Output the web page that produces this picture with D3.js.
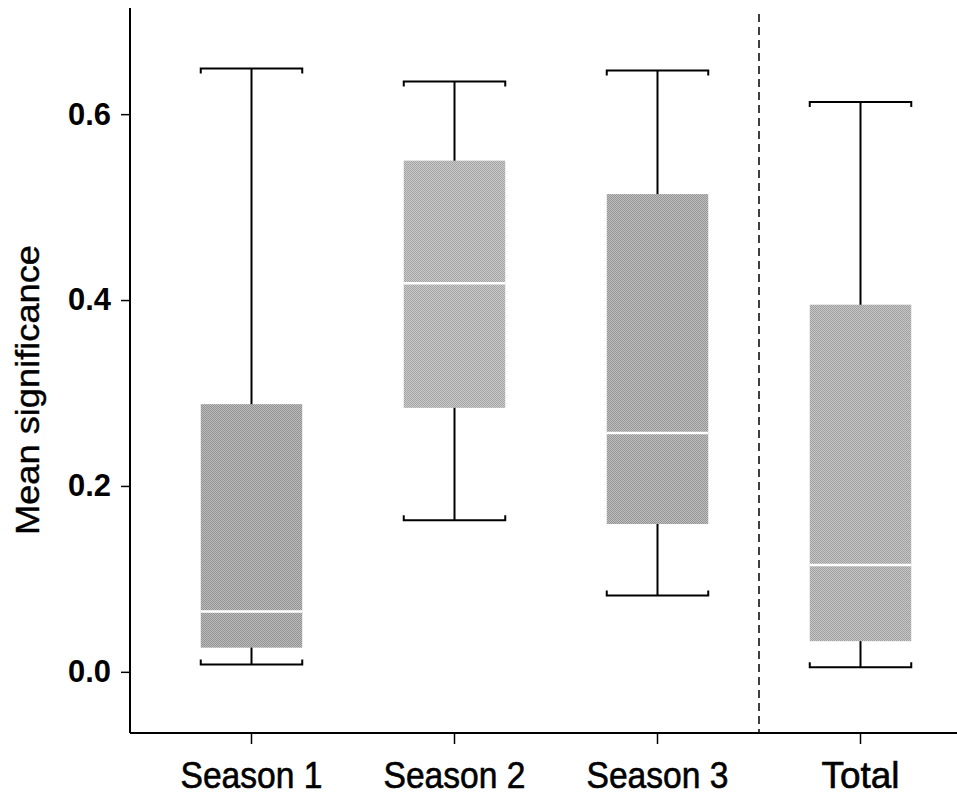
<!DOCTYPE html>
<html>
<head>
<meta charset="utf-8">
<script src="https://cdn.jsdelivr.net/npm/d3@7"></script>
<style>
  body { margin: 0; background: #fff; }
  svg { display: block; }
</style>
</head>
<body>
<svg id="chart"></svg>
<script>
// box summaries
const categories = ["Season 1", "Season 2", "Season 3", "Total"];
const whiskerMax = [0.649, 0.635, 0.647, 0.613];
const q3 = [0.288, 0.550, 0.514, 0.395];
const median = [0.065, 0.418, 0.257, 0.115];
const q1 = [0.026, 0.284, 0.159, 0.033];
const whiskerMin = [0.008, 0.163, 0.082, 0.005];
const yTicks = [0.0, 0.2, 0.4, 0.6];

// light / dark dither pairs per box
const boxGray = [["#bcbcbc", "#929292"], ["#cacaca", "#a4a4a4"], ["#bebebe", "#969696"], ["#c6c6c6", "#a0a0a0"]];

const width = 957;
const height = 797;
const margin = { top: 8, right: 0, bottom: 64, left: 130 };

const svg = d3.select("#chart")
    .attr("width", width)
    .attr("height", height);

const y = d3.scaleLinear()
    .domain([-0.0658, 0.7142])
    .range([height - margin.bottom, margin.top]);

const x = d3.scaleBand()
    .domain(categories)
    .range([150, 962])
    .padding(0);

const boxW = x.bandwidth() * 0.5;

// dither-like fill patterns
const defs = svg.append("defs");
boxGray.forEach(function(c, i) {
    const p = defs.append("pattern")
        .attr("id", "dither" + i)
        .attr("width", 2).attr("height", 2)
        .attr("patternUnits", "userSpaceOnUse");
    p.append("rect").attr("width", 2).attr("height", 2).attr("fill", c[0]);
    p.append("rect").attr("width", 1).attr("height", 1).attr("fill", c[1]);
    p.append("rect").attr("x", 1).attr("y", 1).attr("width", 1).attr("height", 1).attr("fill", c[1]);
});

const data = categories.map((c, i) => ({
    cat: c, max: whiskerMax[i], q3: q3[i], med: median[i], q1: q1[i], min: whiskerMin[i], i: i
}));

const g = svg.append("g");

const boxes = g.selectAll(".box")
    .data(data)
    .enter()
    .append("g")
    .attr("class", "box");

const cx = d => x(d.cat) + x.bandwidth() / 2;

// whisker stems
boxes.append("line")
    .attr("x1", cx)
    .attr("x2", cx)
    .attr("y1", d => y(d.max))
    .attr("y2", d => y(d.min))
    .attr("stroke", "#000")
    .attr("stroke-width", 2);

// caps with little hooks at the ends
const hook = 5;
boxes.append("path")
    .attr("d", function(d) {
        const x0 = cx(d) - boxW / 2;
        const x1 = x0 + boxW;
        const yt = y(d.max);
        return `M${x0},${yt + hook}V${yt}H${x1}V${yt + hook}`;
    })
    .attr("fill", "none")
    .attr("stroke", "#000")
    .attr("stroke-width", 2);

boxes.append("path")
    .attr("d", function(d) {
        const x0 = cx(d) - boxW / 2;
        const x1 = x0 + boxW;
        const yb = y(d.min);
        return `M${x0},${yb - hook}V${yb}H${x1}V${yb - hook}`;
    })
    .attr("fill", "none")
    .attr("stroke", "#000")
    .attr("stroke-width", 2);

// the box itself
boxes.append("rect")
    .attr("x", d => cx(d) - boxW / 2)
    .attr("width", boxW)
    .attr("y", d => y(d.q3))
    .attr("height", d => y(d.q1) - y(d.q3))
    .attr("fill", d => `url(#dither${d.i})`);

// median as a white line
boxes.append("line")
    .attr("x1", d => cx(d) - boxW / 2)
    .attr("x2", d => cx(d) + boxW / 2)
    .attr("y1", d => y(d.med))
    .attr("y2", d => y(d.med))
    .attr("stroke", "#fff")
    .attr("stroke-width", 2.5);

// dashed separator between seasons and total
const sepX = x("Total");
g.append("line")
    .attr("x1", sepX).attr("x2", sepX)
    .attr("y1", 14)
    .attr("y2", y.range()[0])
    .attr("stroke", "#000")
    .attr("stroke-width", 1.5)
    .attr("stroke-dasharray", "8,5");

// axes
const yAxis = d3.axisLeft(y)
    .tickValues(yTicks)
    .tickFormat(d3.format(".1f"))
    .tickSize(9)
    .tickPadding(10);

const yG = svg.append("g")
    .attr("transform", `translate(${margin.left},0)`)
    .call(yAxis);
yG.select(".domain").attr("d", `M0,${margin.top}V${y.range()[0]}`).attr("stroke-width", 2);
yG.selectAll(".tick line").attr("stroke-width", 1.5);
yG.selectAll("text")
    .attr("font-family", "Liberation Sans, Arial, sans-serif")
    .attr("font-size", 31)
    .attr("font-weight", "bold")
    .attr("fill", "#000")
    .attr("textLength", 43)
    .attr("lengthAdjust", "spacingAndGlyphs");

const xAxis = d3.axisBottom(x)
    .tickSize(11)
    .tickPadding(18);

const xG = svg.append("g")
    .attr("transform", `translate(0,${y.range()[0]})`)
    .call(xAxis);
xG.select(".domain").attr("d", `M${margin.left},0H${width}`).attr("stroke-width", 2);
xG.selectAll(".tick line").attr("stroke-width", 1.5);
xG.selectAll("text")
    .attr("font-family", "Liberation Sans, Arial, sans-serif")
    .attr("font-size", 37)
    .attr("fill", "#000")
    .attr("stroke", "#000")
    .attr("stroke-width", 0.6)
    .attr("dy", "0.71em")
    .attr("textLength", d => d === "Total" ? 78 : 142)
    .attr("lengthAdjust", "spacingAndGlyphs");

// y label
svg.append("text")
    .attr("transform", "translate(39,390) rotate(-90)")
    .attr("text-anchor", "middle")
    .attr("font-family", "Liberation Sans, Arial, sans-serif")
    .attr("font-size", 34)
    .attr("stroke", "#000")
    .attr("stroke-width", 0.4)
    .attr("textLength", 290)
    .attr("lengthAdjust", "spacingAndGlyphs")
    .text("Mean significance");
</script>
</body>
</html>
